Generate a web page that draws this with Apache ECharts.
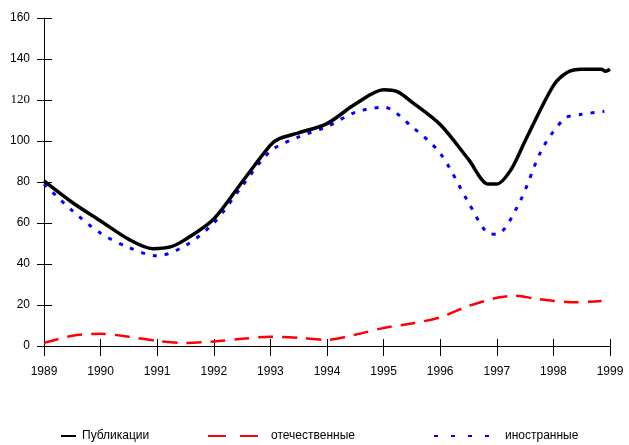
<!DOCTYPE html>
<html>
<head>
<meta charset="utf-8">
<script src="https://cdn.jsdelivr.net/npm/echarts@6/dist/echarts.min.js"></script>
<style>
html, body { margin: 0; padding: 0; background: #fff; }
#chart { width: 629px; height: 445px; }
</style>
</head>
<body>
<div id="chart"></div>
<script>
const yearTicks = [1989, 1990, 1991, 1992, 1993, 1994, 1995, 1996, 1997, 1998, 1999];

const pubYears = [1989, 1989.5, 1990, 1990.5, 1990.92, 1991.25, 1991.5, 1992, 1992.5, 1993, 1993.15, 1993.5, 1994, 1994.5, 1995, 1995.25, 1995.5, 1996, 1996.5, 1996.85, 1997, 1997.25, 1997.5, 1998, 1998.25, 1998.5, 1998.85, 1998.92, 1999];
const pubValues = [80.5, 70, 61, 52, 47.5, 48.5, 52, 62, 80, 98, 101, 104, 108.5, 118, 125, 124, 119, 108, 91, 79, 79, 86, 100, 127, 133.5, 135, 135, 134, 135];

const domYears = [1989, 1989.5, 1990, 1990.5, 1991, 1991.5, 1992, 1992.5, 1993, 1993.5, 1994, 1994.5, 1995, 1995.5, 1996, 1996.5, 1997, 1997.3, 1997.7, 1998, 1998.4, 1998.85];
const domValues = [1.5, 5, 6, 4.5, 2.5, 1.5, 2.2, 3.5, 4.5, 4, 3, 5.5, 8.8, 11, 14, 19.5, 23.5, 24.5, 23, 22, 21.3, 22];

const forYears = [1989, 1989.5, 1990, 1990.5, 1991, 1991.5, 1992, 1992.5, 1993, 1993.5, 1994, 1994.5, 1995, 1995.5, 1996, 1996.5, 1996.85, 1997, 1997.4, 1997.8, 1998.2, 1998.5, 1998.9];
const forValues = [79, 66, 55, 48, 44, 49, 60, 78, 95, 102, 107, 114, 116.5, 107, 94, 70, 55, 54.5, 70, 96, 111, 113, 114.5];

const yMin = 0, yMax = 160, yStep = 20;

function pairs(xs, ys) {
    return xs.map((x, i) => [x, ys[i]]);
}

const font = 'Liberation Sans, Arial, sans-serif';
const gridBox = { left: 44, right: 19, top: 18, bottom: 99 };

function legendFor(name, left, width, gap, dash) {
    return {
        data: [name], left: left, top: 430, padding: 0,
        itemWidth: width, itemHeight: 10,
        itemStyle: { opacity: 0 },
        lineStyle: dash ? { type: dash } : {},
        textStyle: { fontFamily: font, fontSize: 12, color: '#000', padding: [0, 0, 0, gap] }
    };
}

const myChart = echarts.init(document.getElementById('chart'));
const option = {
    animation: false,
    backgroundColor: '#fff',
    grid: [
        Object.assign({}, gridBox),
        Object.assign({}, gridBox)
    ],
    legend: [
        legendFor('Публикации', 60, 15, 1),
        legendFor('отечественные', 207, 50, 8, [18, 14]),
        legendFor('иностранные', 433, 56, 10, [4, 13])
    ],
    xAxis: [
        {
            type: 'value', gridIndex: 0, min: yearTicks[0], max: yearTicks[yearTicks.length - 1], interval: 1,
            axisLine: { lineStyle: { color: '#000', width: 1 } },
            axisTick: { show: true, length: 10, lineStyle: { color: '#000' } },
            axisLabel: { color: '#000', fontFamily: font, fontSize: 12, margin: 20, formatter: v => String(v) },
            splitLine: { show: false }
        },
        {
            type: 'value', gridIndex: 1, min: yearTicks[0], max: yearTicks[yearTicks.length - 1], interval: 1,
            axisLine: { show: false },
            axisTick: { show: true, inside: true, length: 7, lineStyle: { color: '#000' } },
            axisLabel: { show: false },
            splitLine: { show: false }
        }
    ],
    yAxis: [
        {
            type: 'value', gridIndex: 0, min: yMin, max: yMax, interval: yStep,
            axisLine: { show: true, lineStyle: { color: '#000', width: 1 } },
            axisTick: { show: true, length: 7, lineStyle: { color: '#000' } },
            axisLabel: {
                color: '#000', fontFamily: font, fontSize: 12, margin: 14,
                formatter: v => v === 120 ? '{s|' + v + '}' : String(v),
                rich: { s: { fontFamily: 'Liberation Serif, Times New Roman, serif', fontSize: 13, color: '#000' } }
            },
            splitLine: { show: false }
        },
        {
            type: 'value', gridIndex: 1, min: yMin, max: yMax, interval: yStep,
            axisLine: { show: false },
            axisTick: { show: true, inside: true, length: 8, lineStyle: { color: '#000' } },
            axisLabel: { show: false },
            splitLine: { show: false }
        }
    ],
    series: [
        {
            name: 'Публикации', type: 'line', smooth: 0.3, symbol: 'none',
            data: pairs(pubYears, pubValues),
            lineStyle: { color: '#000', width: 3.5 },
            itemStyle: { color: '#000' },
            z: 3
        },
        {
            name: 'отечественные', type: 'line', smooth: 0.3, symbol: 'none',
            data: pairs(domYears, domValues),
            lineStyle: { color: '#ff0000', width: 2.5, type: [15, 9] },
            itemStyle: { color: '#ff0000' },
            z: 2
        },
        {
            name: 'иностранные', type: 'line', smooth: 0.3, symbol: 'none',
            data: pairs(forYears, forValues),
            lineStyle: { color: '#0000ff', width: 3, type: [4, 8] },
            itemStyle: { color: '#0000ff' },
            z: 2
        }
    ]
};
myChart.setOption(option, true);
</script>
</body>
</html>
